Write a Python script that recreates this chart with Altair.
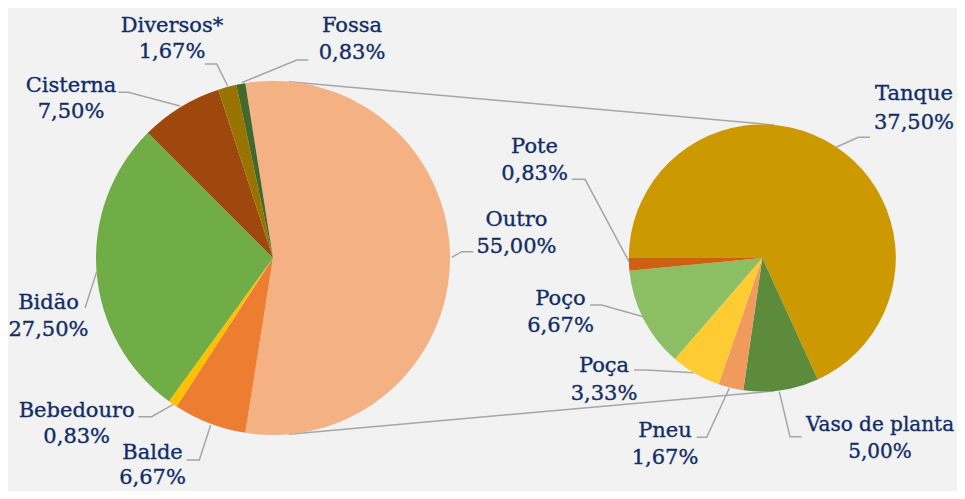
import math
import altair as alt
import pandas as pd

# ---------------- data ----------------
main_names = ["Outro", "Balde", "Bebedouro", "Bidão", "Cisterna", "Diversos*", "Fossa"]
main_values = [55.00, 6.67, 0.83, 27.50, 7.50, 1.67, 0.83]
main_colors = ["#F4B183", "#ED7D31", "#FFC000", "#70AD47", "#9E480E", "#997300", "#43682B"]

sub_names = ["Tanque", "Vaso de planta", "Pneu", "Poça", "Poço", "Pote"]
sub_values = [37.50, 5.00, 1.67, 3.33, 6.67, 0.83]
sub_colors = ["#CC9900", "#5B8B3B", "#F19A5D", "#FFCB33", "#8CBF64", "#CF5F14"]

# ---------------- layout (page pixel coordinates) ----------------
W, H = 949, 483
M = 8  # page margin
MAIN_C, MAIN_R = (273.0, 258.0), 177.0
SUB_C, SUB_R = (762.3, 258.0), 133.5

# label anchor: (center x, baseline of name line, baseline of percent line, font size)
label_pos = {
    "Diversos*": (172, 31.7, 58.3, 21),
    "Fossa": (352, 32.3, 58.5, 21),
    "Cisterna": (71, 91.7, 118.3, 21),
    "Bidão": (48.5, 309, 336, 21),
    "Bebedouro": (76.7, 416.7, 443.3, 21),
    "Balde": (152.5, 459, 484, 21),
    "Outro": (516.5, 226, 253.3, 21),
    "Pote": (534.5, 153.3, 180, 21),
    "Poço": (560.5, 305, 331.7, 21),
    "Poça": (604, 371.7, 399.5, 21),
    "Pneu": (665, 436.7, 464, 21),
    "Vaso de planta": (880, 430.7, 458.3, 20),
    "Tanque": (914, 100, 128.5, 21),
}
leaders = {
    "Diversos*": [(205, 64), (216.7, 64), (227.7, 86)],
    "Fossa": [(308.3, 60), (296.7, 60), (241.7, 82.7)],
    "Cisterna": [(118.3, 92.3), (128.3, 92.3), (180, 106)],
    "Bidão": [(85, 308), (96.7, 271.7)],
    "Bebedouro": [(138.3, 416.7), (151.7, 416.7), (173.3, 404.3)],
    "Balde": [(186.7, 460), (199.3, 460), (210.7, 425)],
    "Outro": [(473.3, 251.7), (461.7, 251.7), (451.7, 257.3)],
    "Pote": [(571.7, 179.3), (585, 179.3), (629, 261.7)],
    "Poço": [(590, 305), (601.7, 305), (643.3, 316.7)],
    "Poça": [(634, 370), (646.7, 370), (693.3, 372.7)],
    "Pneu": [(696.7, 437.3), (706.7, 437.3), (729.3, 388.3)],
    "Vaso de planta": [(801.7, 436.7), (790, 436.7), (779.3, 391.7)],
    "Tanque": [(870, 137.3), (858.3, 137.3), (836, 147.3)],
}

TEXT_COLOR = "#112D68"
LINE_COLOR = "#A6A6A6"
FONT = "DejaVu Serif"

xs = alt.Scale(domain=[M, W + M], range=[0, W], zero=False, nice=False)
ys = alt.Scale(domain=[M, H + M], range=[0, H], zero=False, nice=False)


def pct(v):
    return f"{v:.2f}".replace(".", ",") + "%"


# ---------------- pies ----------------
main_total = sum(main_values)
sub_total = sum(sub_values)
main_start = math.radians(90 - 0.5 * main_values[0] / main_total * 360)
sub_start = -math.pi / 2

main_df = pd.DataFrame({"name": main_names, "value": main_values,
                        "color": main_colors, "idx": range(len(main_names))})
sub_df = pd.DataFrame({"name": sub_names, "value": sub_values,
                       "color": sub_colors, "idx": range(len(sub_names))})

main_pie = alt.Chart(main_df).mark_arc(radius=MAIN_R).encode(
    theta=alt.Theta("value:Q", stack=True,
                    scale=alt.Scale(domain=[0, main_total], range=[main_start, main_start + 2 * math.pi], nice=False)),
    order=alt.Order("idx:Q"),
    color=alt.Color("color:N", scale=None),
    x=alt.value(MAIN_C[0] - M),
    y=alt.value(MAIN_C[1] - M),
)
sub_pie = alt.Chart(sub_df).mark_arc(radius=SUB_R).encode(
    theta=alt.Theta("value:Q", stack=True,
                    scale=alt.Scale(domain=[0, sub_total], range=[sub_start, sub_start + 2 * math.pi], nice=False)),
    order=alt.Order("idx:Q"),
    color=alt.Color("color:N", scale=None),
    x=alt.value(SUB_C[0] - M),
    y=alt.value(SUB_C[1] - M),
)

# ---------------- connector lines (external tangents of the two circles) ----------------
dx, dy = SUB_C[0] - MAIN_C[0], SUB_C[1] - MAIN_C[1]
d = math.hypot(dx, dy)
ux, uy = dx / d, dy / d
px, py = uy, -ux  # perpendicular (upward on screen)
ca = (MAIN_R - SUB_R) / d
sa = math.sqrt(1 - ca * ca)
conn_rows = []
for s in (1, -1):
    nx, ny = ca * ux + s * sa * px, ca * uy + s * sa * py
    conn_rows.append({"x": MAIN_C[0] + MAIN_R * nx, "y": MAIN_C[1] + MAIN_R * ny,
                      "x2": SUB_C[0] + SUB_R * nx, "y2": SUB_C[1] + SUB_R * ny})
conn_df = pd.DataFrame(conn_rows)
connectors = alt.Chart(conn_df).mark_rule(color=LINE_COLOR, strokeWidth=1.5).encode(
    x=alt.X("x:Q", scale=xs, axis=None), y=alt.Y("y:Q", scale=ys, axis=None),
    x2="x2:Q", y2="y2:Q",
)

# ---------------- leader lines ----------------
lead_rows = []
for name, pts in leaders.items():
    for i, (lx, ly) in enumerate(pts):
        lead_rows.append({"name": name, "i": i, "x": lx, "y": ly})
lead_df = pd.DataFrame(lead_rows)
leader_lines = alt.Chart(lead_df).mark_line(color=LINE_COLOR, strokeWidth=1.5).encode(
    x=alt.X("x:Q", scale=xs, axis=None), y=alt.Y("y:Q", scale=ys, axis=None),
    detail="name:N", order="i:Q",
)

# ---------------- labels ----------------
all_values = dict(zip(main_names + sub_names, main_values + sub_values))
text_rows = []
for name, (cx, b1, b2, fs) in label_pos.items():
    text_rows.append({"t": name, "x": cx, "y": b1, "fs": fs})
    text_rows.append({"t": pct(all_values[name]), "x": cx, "y": b2, "fs": fs})
text_df = pd.DataFrame(text_rows)
labels = alt.Chart(text_df).mark_text(
    font=FONT, color=TEXT_COLOR, stroke=TEXT_COLOR, strokeWidth=0.35,
    align="center", baseline="alphabetic"
).encode(
    x=alt.X("x:Q", scale=xs, axis=None), y=alt.Y("y:Q", scale=ys, axis=None), text="t:N",
    size=alt.Size("fs:Q", scale=None, legend=None),
)

chart = alt.layer(connectors, main_pie, sub_pie, leader_lines, labels).resolve_scale(
    theta="independent"
).properties(
    width=W, height=H, padding=0, autosize=alt.AutoSizeParams(type="none"),
    background="#F2F2F2",
).configure_view(stroke=None)

chart.save("out.html", embed_options={"renderer": "svg", "actions": False})
